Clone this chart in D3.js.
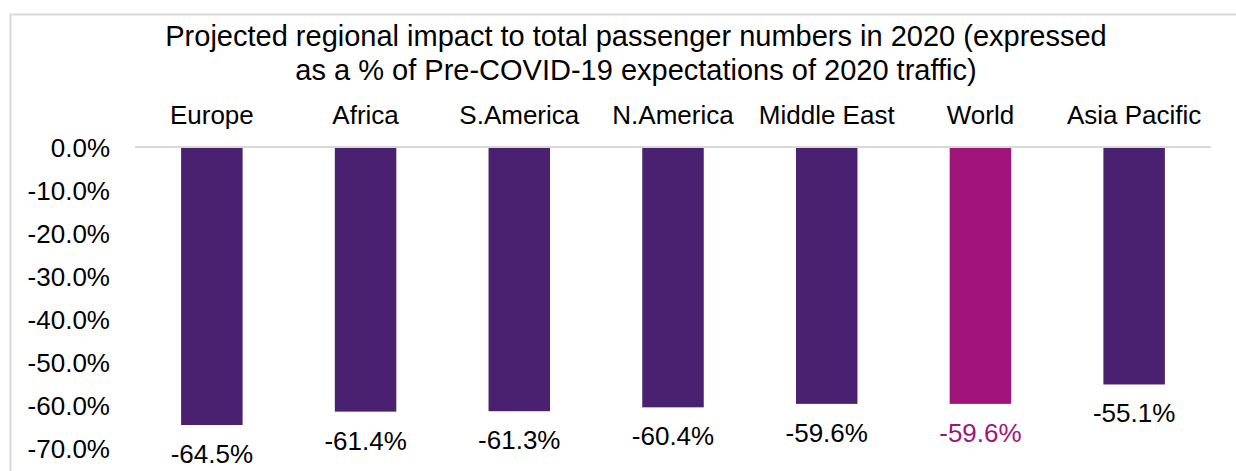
<!DOCTYPE html>
<html>
<head>
<meta charset="utf-8">
<script src="https://cdn.jsdelivr.net/npm/d3@7"></script>
<style>
  html, body { margin: 0; padding: 0; background: #fff; }
  svg { display: block; }
  text { font-family: "Liberation Sans", Arial, sans-serif; }
</style>
</head>
<body>
<svg id="chart" width="1236" height="471"></svg>
<script>
// Regional passenger impact, 2020 (% of pre-COVID-19 expectations)
const regions = ["Europe", "Africa", "S.America", "N.America", "Middle East", "World", "Asia Pacific"];
const impact = [-64.5, -61.4, -61.3, -60.4, -59.6, -59.6, -55.1];
const yTicks = [0, -10, -20, -30, -40, -50, -60, -70];
const titleLines = [
  "Projected regional impact to total passenger numbers in 2020 (expressed",
  "as a % of Pre-COVID-19 expectations of 2020 traffic)"
];

const barColor = "#4a2070";
const highlightColor = "#a1157a";
const highlight = "World";

// Percent with one decimal and a plain hyphen for the sign
const pct = v => d3.format(".1f")(v).replace("\u2212", "-") + "%";

const svg = d3.select("#chart");
const W = 1236, H = 471;
const plot = { left: 135, right: 1211, top: 147, bottom: 448.7 };

// Chart area border
svg.append("rect")
  .attr("x", 10.5).attr("y", 14.5)
  .attr("width", W + 20).attr("height", H + 20)
  .attr("fill", "none").attr("stroke", "#d9d9d9").attr("stroke-width", 2);

const x = d3.scaleBand()
  .domain(regions)
  .range([plot.left, plot.right])
  .paddingInner(0.6)
  .paddingOuter(0.3);

const y = d3.scaleLinear()
  .domain([-70, 0])
  .range([plot.bottom, plot.top]);

// Title
svg.append("text")
  .attr("text-anchor", "middle")
  .attr("font-size", 29)
  .attr("fill", "#000")
  .selectAll("tspan")
  .data(titleLines)
  .join("tspan")
  .attr("x", 636)
  .attr("y", (d, i) => 46 + i * 34)
  .text(d => d);

// Y axis labels
const yAxis = d3.axisLeft(y)
  .tickValues(yTicks)
  .tickSize(0)
  .tickPadding(0)
  .tickFormat(pct);

const gy = svg.append("g")
  .attr("transform", `translate(110,0)`)
  .call(yAxis);
gy.select(".domain").remove();
gy.selectAll("text")
  .attr("font-size", 26)
  .attr("fill", "#000")
  .attr("font-family", "Liberation Sans, Arial, sans-serif")
  .attr("dy", "0.35em");

// Category labels above the plot
const xAxis = d3.axisTop(x).tickSize(0).tickPadding(0);
const gx = svg.append("g")
  .attr("transform", `translate(0,124)`)
  .call(xAxis);
gx.select(".domain").remove();
gx.selectAll("text")
  .attr("font-size", 26)
  .attr("fill", "#000")
  .attr("font-family", "Liberation Sans, Arial, sans-serif")
  .attr("dy", 0);

// Bars
const data = regions.map((r, i) => ({ region: r, value: impact[i] }));

svg.append("g")
  .selectAll("rect")
  .data(data)
  .join("rect")
  .attr("x", d => x(d.region))
  .attr("width", x.bandwidth())
  .attr("y", y(0))
  .attr("height", d => y(d.value) - y(0))
  .attr("fill", d => d.region === highlight ? highlightColor : barColor);

// Zero line
svg.append("line")
  .attr("x1", plot.left).attr("x2", plot.right)
  .attr("y1", y(0)).attr("y2", y(0))
  .attr("stroke", "#d9d9d9").attr("stroke-width", 2);

// Value labels below each bar
svg.append("g")
  .selectAll("text")
  .data(data)
  .join("text")
  .attr("x", d => x(d.region) + x.bandwidth() / 2)
  .attr("y", d => y(d.value) + 38)
  .attr("text-anchor", "middle")
  .attr("font-size", 26)
  .attr("fill", d => d.region === highlight ? highlightColor : "#000")
  .text(d => pct(d.value));
</script>
</body>
</html>
